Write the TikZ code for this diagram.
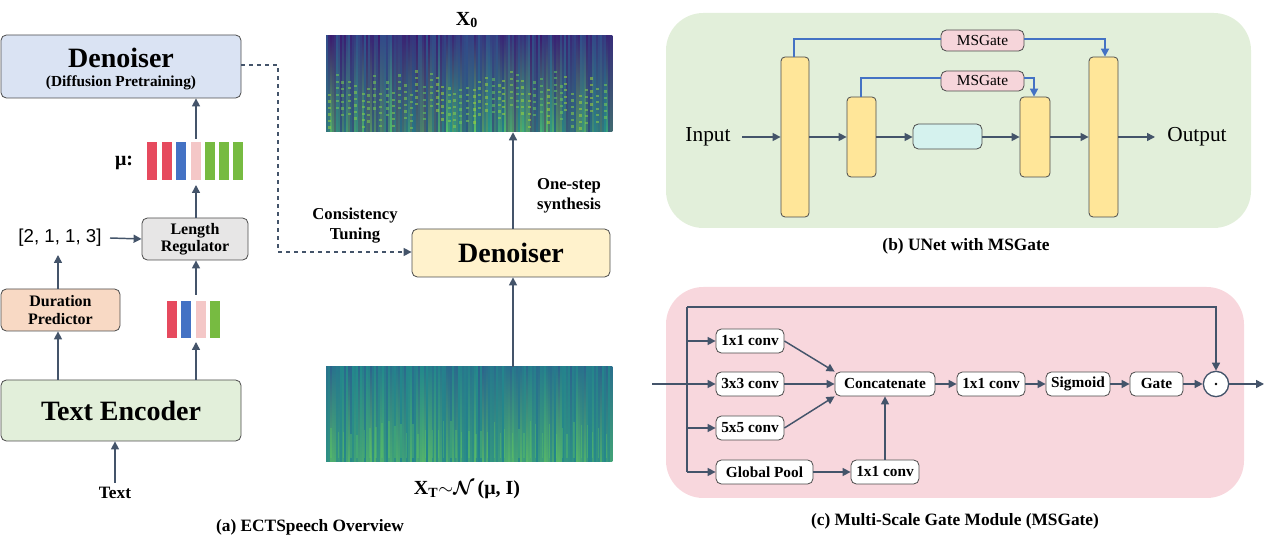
\documentclass[tikz,border=0pt]{standalone}
\usepackage{amsmath}
\usepackage{bm}
\usepackage{fontspec}
\setmainfont{Liberation Serif}
\newfontfamily\sansf{Liberation Sans}
\usetikzlibrary{fit,arrows.meta,calc}
\definecolor{ln}{HTML}{44546A}
\definecolor{cblue}{HTML}{DAE3F3}
\definecolor{cgreen}{HTML}{E2EFDA}
\definecolor{cpeach}{HTML}{F8D9C4}
\definecolor{cgray}{HTML}{E7E6E6}
\definecolor{cyel}{HTML}{FFF2CC}
\definecolor{cbar}{HTML}{FFE699}
\definecolor{ccyan}{HTML}{D5F2EE}
\definecolor{cpinkbg}{HTML}{F8D7DD}
\definecolor{cms}{HTML}{F6D5DA}
\definecolor{bred}{HTML}{E64A5E}
\definecolor{bblue}{HTML}{4472C4}
\definecolor{bpink}{HTML}{F4C7C7}
\definecolor{bgreen}{HTML}{77BB41}
\definecolor{skip}{HTML}{4472C4}
\definecolor{vdark}{HTML}{3B1A6E}
\definecolor{vblue}{HTML}{31508C}
\definecolor{vteal}{HTML}{21908C}
\definecolor{vgreen}{HTML}{5EC962}
\definecolor{vyel}{HTML}{C8E020}
\begin{document}
\begin{tikzpicture}[x=0.75pt,y=-0.75pt,
  box/.style={draw=black!70, rounded corners=4pt, inner sep=0pt, line width=0.6pt},
  arr/.style={draw=ln, line width=1.1pt, -{Triangle[length=6pt,width=6pt]}},
  barr/.style={draw=skip, line width=1.3pt, -{Triangle[length=6pt,width=6pt]}},
  cb/.style={box, fill=white},
  cbt/.style={font=\bfseries\fontsize{11.5}{12}\selectfont},
  lbl/.style={font=\bfseries\fontsize{12}{13}\selectfont, align=center},
  capt/.style={font=\bfseries\fontsize{13}{15}\selectfont},
  big/.style={font=\bfseries\fontsize{21}{24}\selectfont},
  ubar/.style={box, fill=cbar, rounded corners=3pt}]
\useasboundingbox (0,0) rectangle (1267,548);
% ---------- (a) ----------
\node[box, fill=cblue, fit={(1,35)(241,98)}] (pre) {};
\node[big] at (121,58) {Denoiser};
\node[font=\bfseries\fontsize{11.5}{14}\selectfont] at (121,83) {(Diffusion Pretraining)};
\node[box, fill=cgray, fit={(142,218)(248,260)}] (lr) {};
\node[lbl] at (lr.center) {Length\\Regulator};
\node[box, fill=cpeach, fit={(1,289)(120,331)}] (dp) {};
\node[lbl] at (dp.center) {Duration\\Predictor};
\node[box, fill=cgreen, fit={(1,380)(241,441)}] (te) {};
\node[big] at (te.center) {Text Encoder};
\node[font=\bfseries\fontsize{13}{15}\selectfont] (txt) at (115,493) {Text};
\node[font=\sansf\fontsize{14}{16}\selectfont] (dur) at (60,238) {[2, 1, 1, 3]};
\node[font=\bfseries\fontsize{15}{16}\selectfont] at (124,163) {μ:};
\foreach \cx/\c in {152/bred,167/bred,181/bblue,196/bpink,210/bgreen,224/bgreen,238/bgreen}
  \fill[\c] (\cx-4.7,142) rectangle (\cx+4.7,180);
\foreach \cx/\c in {172/bred,186/bblue,201/bpink,215/bgreen}
  \fill[\c] (\cx-4.7,301) rectangle (\cx+4.7,338);
\coordinate (mutop) at (196,139);
\coordinate (mubot) at (196,185);
\coordinate (b4top) at (196,295);
\coordinate (b4bot) at (196,342);
\coordinate (tea) at (58,380);
\coordinate (teb) at (196,380);
\draw[arr] (mutop) -- (pre.south -| mutop);
\draw[arr] (lr.north -| mubot) -- (mubot);
\draw[arr] (b4top) -- (lr.south -| b4top);
\draw[arr] (teb) -- (b4bot);
\draw[arr] (tea) -- (dp.south -| tea);
\draw[arr] (dp.north -| tea) -- (58,255);
\draw[arr] (110,238) -- (lr.west);
\draw[arr] (txt.north) -- (te.south -| txt);
% spectrograms
\pgfmathsetseed{7}
\foreach \i in {0,...,142}{
  \pgfmathsetmacro{\xa}{326+\i*2}
  \pgfmathsetmacro{\r}{int(random(0,100))}
  \pgfmathsetmacro{\s}{int(random(0,100))}
  \pgfmathsetmacro{\d}{int(random(45,100))}
  \shade[top color=vdark!\s!vblue, bottom color=vgreen!\r!vteal!\d!vdark] (\xa,36) rectangle (\xa+2.3,132);
  \pgfmathsetmacro{\t}{int(random(10,70))}
  \shade[top color=vblue!\t!vteal, bottom color=vgreen!\r!vteal!85!vblue] (\xa,367) rectangle (\xa+2.3,462);
}
\pgfmathsetseed{3}
\foreach \i in {0,...,44}{
  \pgfmathsetmacro{\xa}{328+\i*6.2+rnd*3}
  \pgfmathsetmacro{\r}{int(random(0,70))}
  \pgfmathsetmacro{\h}{70+rnd*25}
  \foreach \k in {0,...,5}{
    \fill[vyel!\r!vgreen, opacity=0.55] (\xa,\h+\k*6.5) rectangle (\xa+3,\h+\k*6.5+2.2);
  }
  \fill[vgreen, opacity=0.35] (\xa+2,420+rnd*15) rectangle (\xa+3.5,458);
}
\node[inner sep=0, fit={(326,36)(611,132)}] (x0) {};
\node[inner sep=0, fit={(326,367)(611,462)}] (xt) {};
\node[font=\bfseries\fontsize{15}{16}\selectfont] at (467,20) {X$_{\mathbf 0}$};
\node[font=\bfseries\fontsize{15}{16}\selectfont] at (467,490) {X$_{\mathbf T}$$\sim$$\bm{\mathcal N}$\,(μ, I)};
\node[box, fill=cyel, fit={(412,229)(610,277)}] (den) {};
\node[big] at (den.center) {Denoiser};
\draw[arr] (xt.north -| 513,0) -- (den.south -| 513,0);
\draw[arr] (den.north -| 513,0) -- (x0.south -| 513,0);
\node[lbl, font=\bfseries\fontsize{12.5}{15}\selectfont] at (355,226) {Consistency\\Tuning};
\node[lbl, font=\bfseries\fontsize{12.5}{15}\selectfont] at (569,196) {One-step\\synthesis};
\coordinate (d1) at (278,65);
\coordinate (d2) at (278,252);
\draw[ln, line width=1pt, dashed, -{Triangle[length=6pt,width=6pt]}] (pre.east |- d1) -- (d1) -- (d2) -- (den.west |- d2);
\node[capt] at (310,527) {(a) ECTSpeech Overview};
% ---------- (b) ----------
\fill[cgreen, rounded corners=28pt] (666,13) rectangle (1251,228);
\node[ubar, fit={(781,57)(809,217)}] (L1) {};
\node[ubar, fit={(847,97)(876,177)}] (L2) {};
\node[box, fill=ccyan, rounded corners=4pt, fit={(913,124)(982,149)}] (M) {};
\node[ubar, fit={(1020,97)(1050,177)}] (R2) {};
\node[ubar, fit={(1089,57)(1118,217)}] (R1) {};
\node[font=\fontsize{16}{18}\selectfont] (in) at (708,137) {Input};
\node[font=\fontsize{16}{18}\selectfont] (out) at (1197,137) {Output};
\draw[arr] (742,137) -- (L1.west |- 0,137);
\draw[arr] (L1.east |- 0,137) -- (L2.west |- 0,137);
\draw[arr] (L2.east |- 0,137) -- (M.west |- 0,137);
\draw[arr] (M.east |- 0,137) -- (R2.west |- 0,137);
\draw[arr] (R2.east |- 0,137) -- (R1.west |- 0,137);
\draw[arr] (R1.east |- 0,137) -- (1155,137);
\node[box, fill=cms, fit={(941,30)(1024,51)}] (g1) {};
\node[font=\fontsize{11.5}{13}\selectfont] at (g1.center) {MSGate};
\node[box, fill=cms, fit={(941,71)(1024,91)}] (g2) {};
\node[font=\fontsize{11.5}{13}\selectfont] at (g2.center) {MSGate};
\draw[skip, line width=1.3pt] (L1.north -| 794,0) |- (g1.west |- 0,39);
\draw[barr] (g1.east |- 0,39) -| (R1.north -| 1105,0);
\draw[skip, line width=1.3pt] (L2.north -| 861,0) |- (g2.west |- 0,78);
\draw[barr] (g2.east |- 0,78) -| (R2.north -| 1034,0);
\node[capt] at (966,246) {(b) UNet with MSGate};
% ---------- (c) ----------
\fill[cpinkbg, rounded corners=28pt] (666,287) rectangle (1244,498);
\node[cb, fit={(716,329)(784,353)}] (c1) {};
\node[cbt] at (c1.center) {1x1 conv};
\node[cb, fit={(716,372)(784,396)}] (c3) {};
\node[cbt] at (c3.center) {3x3 conv};
\node[cb, fit={(716,416)(784,440)}] (c5) {};
\node[cbt] at (c5.center) {5x5 conv};
\node[cb, fit={(716,460)(813,484)}] (gp) {};
\node[cbt] at (gp.center) {Global Pool};
\node[cb, fit={(851,460)(919,484)}] (c1b) {};
\node[cbt] at (c1b.center) {1x1 conv};
\node[cb, fit={(835,372)(935,396)}] (cat) {};
\node[cbt] at (cat.center) {Concatenate};
\node[cb, fit={(957,372)(1025,396)}] (c1c) {};
\node[cbt] at (c1c.center) {1x1 conv};
\node[cb, fit={(1046,372)(1110,396)}] (sig) {};
\node[cbt] at (sig.center) {Sigmoid};
\node[cb, fit={(1130,372)(1183,396)}] (gate) {};
\node[cbt] at (gate.center) {Gate};
\node[draw=ln, fill=white, circle, line width=1pt, minimum size=19pt, inner sep=0] (od) at (1216,384) {};
\fill[black] (od.center) circle (1.1pt);
\coordinate (st) at (652,384);
\coordinate (br) at (687,384);
\coordinate (tp) at (687,307);
\coordinate (bt) at (687,472);
\draw[ln, line width=1.1pt] (st) -- (br);
\draw[ln, line width=1.1pt] (tp) -- (bt);
\draw[arr] (c1.west -| br) -- (c1.west);
\draw[arr] (br) -- (c3.west);
\draw[arr] (c5.west -| br) -- (c5.west);
\draw[arr] (gp.west -| br) -- (gp.west);
\draw[arr] (tp) -| (od.north);
\draw[arr] (c1.east) -- (cat.north west);
\draw[arr] (c3.east) -- (cat.west);
\draw[arr] (c5.east) -- (cat.south west);
\draw[arr] (gp.east) -- (c1b.west);
\draw[arr] (c1b.north) -- (cat.south -| c1b.north);
\draw[arr] (cat.east) -- (c1c.west);
\draw[arr] (c1c.east) -- (sig.west);
\draw[arr] (sig.east) -- (gate.west);
\draw[arr] (gate.east) -- (od.west);
\draw[arr] (od.east) -- (1264,384);
\node[capt] at (955,521) {(c) Multi-Scale Gate Module (MSGate)};
\end{tikzpicture}
\end{document}
